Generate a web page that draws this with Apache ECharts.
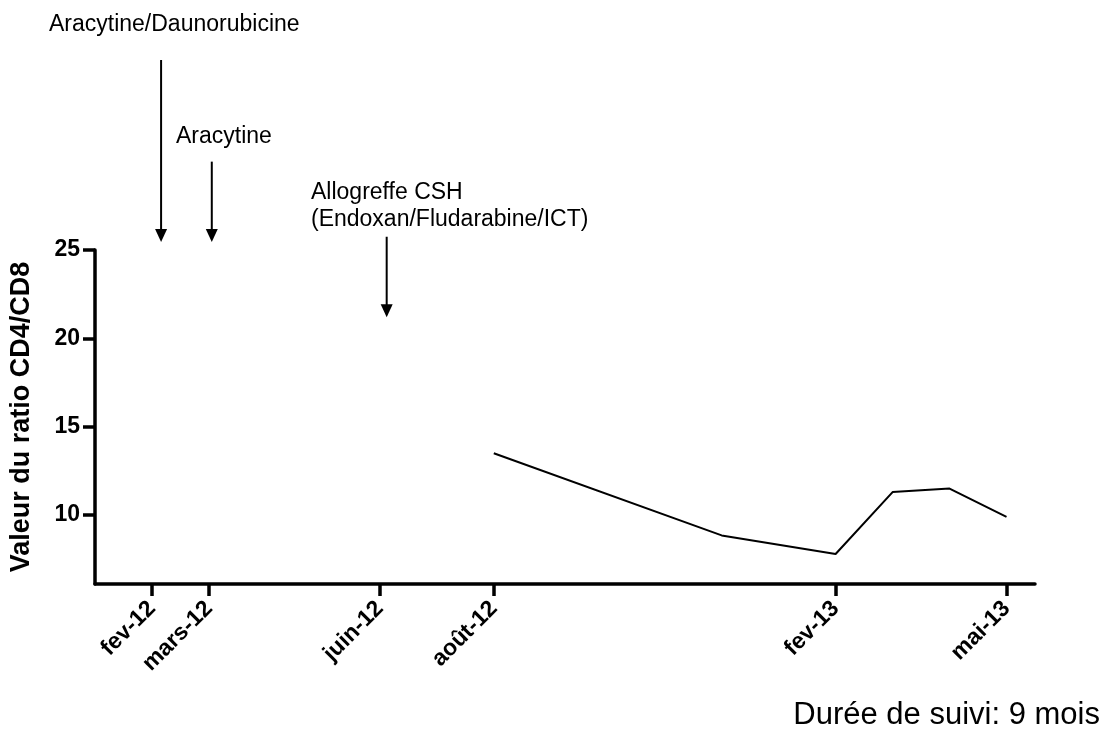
<!DOCTYPE html>
<html>
<head>
<meta charset="utf-8">
<script src="https://cdn.jsdelivr.net/npm/echarts@6/dist/echarts.min.js"></script>
<style>
  html, body { margin: 0; padding: 0; background: #fff; }
  #chart { width: 1105px; height: 742px; }
</style>
</head>
<body>
<div id="chart"></div>
<script>
// months counted from fev-12 (= 0)
const tickMonths = [0, 1, 4, 6, 12, 15];
const tickLabels = ['fev-12', 'mars-12', 'juin-12', 'août-12', 'fev-13', 'mai-13'];
const yTicks = [10, 15, 20, 25];

// ratio CD4/CD8 measurements
const sampleMonths = [6, 10, 12, 13, 14, 15];
const ratioValues = [13.5, 8.85, 7.8, 11.3, 11.5, 9.9];

// treatment arrows (x in months, y top / tip in ratio units)
const arrowMonths = [0.16, 1.05, 4.12];
const arrowTops = [35.75, 30.0, 25.75];
const arrowTips = [25.45, 25.45, 21.2];

const FONT = '"Liberation Sans", Arial, sans-serif';

const chart = echarts.init(document.getElementById('chart'));

chart.setOption({
  animation: false,
  grid: { left: 95, right: 70, top: 250, bottom: 158, containLabel: false, outerBoundsMode: 'none' },
  xAxis: {
    type: 'value',
    min: -1,
    max: 15.5,
    splitLine: { show: false },
    axisLine: { onZero: false, lineStyle: { color: '#000', width: 3.5 } },
    axisTick: { customValues: tickMonths, length: 12, lineStyle: { color: '#000', width: 3.5 } },
    axisLabel: {
      customValues: tickMonths,
      rotate: 45,
      margin: 21,
      color: '#000',
      fontFamily: FONT,
      fontSize: 23,
      fontWeight: 'bold',
      formatter: v => tickLabels[tickMonths.indexOf(v)]
    }
  },
  yAxis: {
    type: 'value',
    min: 6.1,
    max: 25,
    splitLine: { show: false },
    name: 'Valeur du ratio CD4/CD8',
    nameLocation: 'middle',
    nameGap: 60,
    nameTextStyle: { color: '#000', fontFamily: FONT, fontSize: 27, fontWeight: 'bold' },
    axisLine: { show: true, onZero: false, lineStyle: { color: '#000', width: 3.5 } },
    axisTick: { show: true, customValues: yTicks, length: 12, lineStyle: { color: '#000', width: 3.5 } },
    axisLabel: {
      customValues: yTicks,
      margin: 15,
      color: '#000',
      fontFamily: FONT,
      fontSize: 23,
      fontWeight: 'bold'
    }
  },
  series: [{
    type: 'line',
    data: sampleMonths.map((m, i) => [m, ratioValues[i]]),
    showSymbol: false,
    lineStyle: { color: '#000', width: 2 }
  }]
});

// arrows and texts
const graphics = [];
arrowMonths.forEach((m, i) => {
  const top = chart.convertToPixel({ gridIndex: 0 }, [m, arrowTops[i]]);
  const tip = chart.convertToPixel({ gridIndex: 0 }, [m, arrowTips[i]]);
  graphics.push({
    type: 'line',
    shape: { x1: top[0], y1: top[1], x2: tip[0], y2: tip[1] - 10 },
    style: { stroke: '#000', lineWidth: 2 }
  });
  graphics.push({
    type: 'polygon',
    shape: { points: [[tip[0] - 6, tip[1] - 13], [tip[0] + 6, tip[1] - 13], [tip[0], tip[1]]] },
    style: { fill: '#000' }
  });
});

function addText(text, x, y, size, align) {
  graphics.push({
    type: 'text',
    x: x,
    y: y,
    style: {
      text: text,
      fill: '#000',
      font: size + 'px ' + FONT,
      textAlign: align || 'left',
      textVerticalAlign: 'middle'
    }
  });
}
addText('Aracytine/Daunorubicine', 49, 25, 23);
addText('Aracytine', 176, 137, 23);
addText('Allogreffe CSH', 311, 193, 23);
addText('(Endoxan/Fludarabine/ICT)', 311, 220, 23);
addText('Durée de suivi: 9 mois', 1100, 715, 31, 'right');

chart.setOption({ graphic: graphics });
</script>
</body>
</html>
